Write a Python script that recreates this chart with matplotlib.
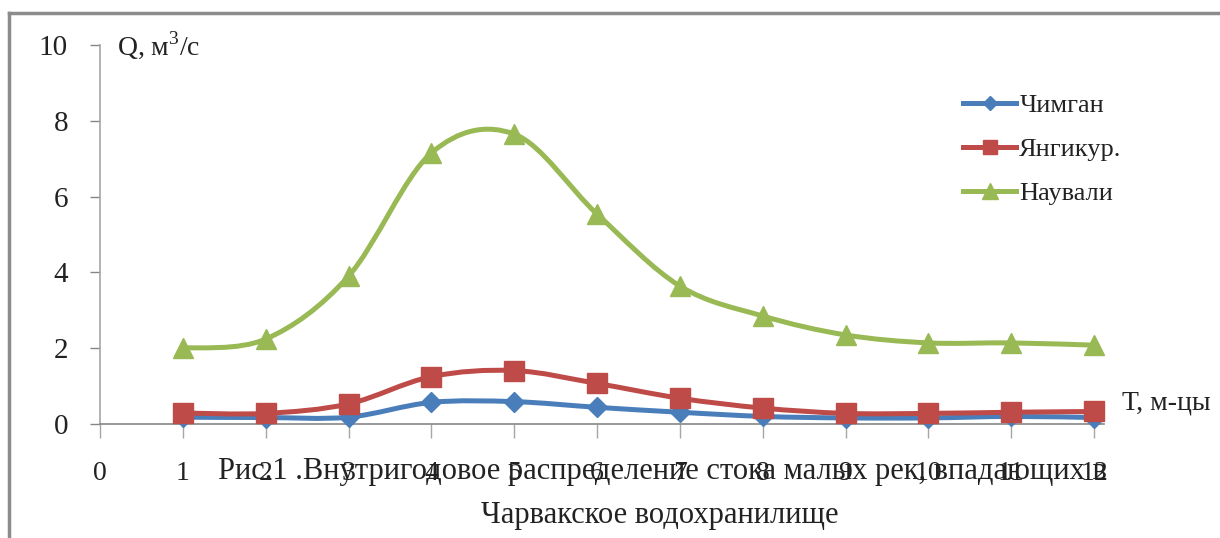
import numpy as np
import matplotlib
matplotlib.use("Agg")
import matplotlib.pyplot as plt
from matplotlib.path import Path
from matplotlib.patches import PathPatch
from matplotlib.lines import Line2D

plt.rcParams['font.family'] = ['Liberation Serif', 'DejaVu Serif']
plt.rcParams['mathtext.fontset'] = 'custom'
plt.rcParams['mathtext.rm'] = 'Liberation Serif'

months = [1, 2, 3, 4, 5, 6, 7, 8, 9, 10, 11, 12]
chimgan = [0.18, 0.17, 0.18, 0.57, 0.59, 0.44, 0.31, 0.20, 0.16, 0.16, 0.20, 0.17]
yangikur = [0.29, 0.28, 0.53, 1.25, 1.41, 1.07, 0.68, 0.42, 0.28, 0.28, 0.31, 0.33]
nauvali = [2.0, 2.24, 3.9, 7.15, 7.65, 5.54, 3.64, 2.85, 2.35, 2.14, 2.14, 2.08]
series_names = ["Чимган", "Янгикур.", "Наували"]
xticks = list(range(0, 13))
yticks = [0, 2, 4, 6, 8, 10]

colors = ["#4A7EBB", "#BE4B48", "#98B954"]
markers = ["D", "s", "^"]
msizes = [10, 14, 15]

W, H = 1220, 538
fig = plt.figure(figsize=(W / 100, H / 100), dpi=100)


def fx(px):
    return px / W


def fy(py):
    return 1 - py / H


ax = fig.add_axes([fx(100), fy(424), fx(1104) - fx(100), fy(45) - fy(424)])
ax.set_xlim(0, 12.12)
ax.set_ylim(0, 10)


def smooth_path(x, y):
    x = np.asarray(x, float)
    y = np.asarray(y, float)
    pts = np.column_stack([x, y])
    n = len(pts)
    verts = [pts[0]]
    codes = [Path.MOVETO]
    for i in range(n - 1):
        p0 = pts[i - 1] if i > 0 else pts[i]
        p1 = pts[i]
        p2 = pts[i + 1]
        p3 = pts[i + 2] if i + 2 < n else pts[i + 1]
        c1 = p1 + (p2 - p0) / 6.0
        c2 = p2 - (p3 - p1) / 6.0
        verts += [c1, c2, p2]
        codes += [Path.CURVE4] * 3
    return Path(verts, codes)


handles = []
for vals, c, m, ms, name in zip([chimgan, yangikur, nauvali], colors, markers, msizes, series_names):
    patch = PathPatch(smooth_path(months, vals), facecolor='none', edgecolor=c,
                      lw=3.6, zorder=3, capstyle='round', joinstyle='round')
    ax.add_patch(patch)
    ax.plot(months, vals, linestyle='none', marker=m, markersize=ms, color=c,
            markeredgecolor=c, zorder=4, clip_on=False)
    handles.append(Line2D([], [], color=c, lw=3.6, marker=m, markersize=ms * 0.75,
                          markeredgecolor=c, label=name))

for s in ['top', 'right']:
    ax.spines[s].set_visible(False)
ax.spines['left'].set_color('#A6A6A6')
ax.spines['left'].set_linewidth(1.2)
ax.spines['bottom'].set_color('#868686')
ax.spines['bottom'].set_linewidth(1.2)

ax.set_yticks(yticks)
ax.set_yticklabels([str(v) for v in yticks], fontsize=21)
ax.set_xticks(xticks)
ax.set_xticklabels([str(v) for v in xticks], fontsize=20)
ax.tick_params(axis='y', direction='out', length=7, width=1, color='#868686', pad=16, labelcolor='#222222')
ax.tick_params(axis='x', direction='out', length=10, width=1, color='#A6A6A6', pad=17, labelcolor='#222222')

# axis titles
fig.text(fx(117), fy(45), "Q, м$^{3}$/с", fontsize=20, ha='left', va='center', color='#222222')
fig.text(fx(1122), fy(403), "Т, м-цы", fontsize=20, ha='left', va='center', color='#222222')

leg = fig.legend(handles=handles, loc='upper left', bbox_to_anchor=(fx(958), fy(88)),
                 frameon=False, fontsize=19, handlelength=2.0, handletextpad=0.12,
                 labelspacing=0.78, borderpad=0.2, borderaxespad=0)
for t in leg.get_texts():
    t.set_color('#222222')

# caption
fig.text(fx(662), fy(472), "Рис.1 .Внутригодовое распределение стока малых рек, впадающих в",
         fontsize=22, ha='center', va='center', color='#222222')
fig.text(fx(660), fy(515), "Чарвакское водохранилище",
         fontsize=22, ha='center', va='center', color='#222222')

# frame
fig.add_artist(Line2D([fx(9), 1.0], [fy(13), fy(13)], color='#8C8C8C', lw=2.5, transform=fig.transFigure))
fig.add_artist(Line2D([fx(9), fx(9)], [fy(13), 0.0], color='#8C8C8C', lw=2.5, transform=fig.transFigure))

fig.savefig("out.png", dpi=100)
